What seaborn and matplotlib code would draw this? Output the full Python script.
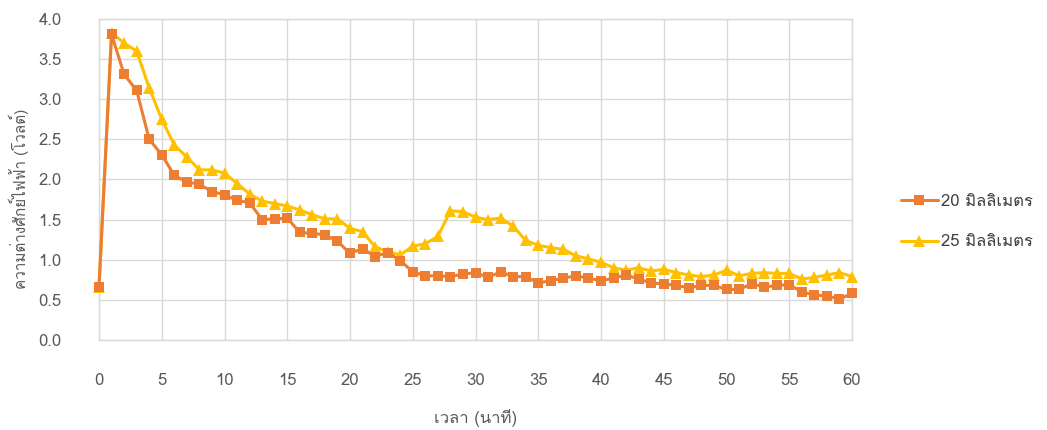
import numpy as np
import pandas as pd
import matplotlib
matplotlib.use("Agg")
import matplotlib.pyplot as plt
import seaborn as sns
from matplotlib import font_manager, ft2font

minutes = list(range(0, 61))
volt_20mm = [0.66, 3.81, 3.31, 3.11, 2.50, 2.31, 2.05, 1.97, 1.94, 1.85,
             1.81, 1.74, 1.71, 1.50, 1.51, 1.52, 1.34, 1.33, 1.31, 1.23,
             1.08, 1.14, 1.04, 1.09, 0.99, 0.85, 0.80, 0.80, 0.79, 0.82,
             0.84, 0.78, 0.85, 0.79, 0.79, 0.71, 0.74, 0.77, 0.80, 0.77,
             0.74, 0.77, 0.81, 0.76, 0.71, 0.70, 0.68, 0.65, 0.68, 0.68,
             0.63, 0.63, 0.70, 0.66, 0.68, 0.69, 0.60, 0.56, 0.55, 0.51,
             0.58]
volt_25mm = [0.66, 3.83, 3.70, 3.60, 3.14, 2.75, 2.43, 2.28, 2.12, 2.12,
             2.08, 1.95, 1.82, 1.73, 1.70, 1.67, 1.62, 1.56, 1.51, 1.51,
             1.39, 1.35, 1.16, 1.10, 1.06, 1.17, 1.20, 1.29, 1.61, 1.60,
             1.53, 1.50, 1.52, 1.42, 1.24, 1.18, 1.15, 1.13, 1.05, 1.01,
             0.97, 0.90, 0.87, 0.90, 0.86, 0.88, 0.84, 0.81, 0.79, 0.81,
             0.87, 0.80, 0.83, 0.84, 0.83, 0.83, 0.76, 0.78, 0.81, 0.84,
             0.79]
series_labels = ["20 มิลลิเมตร", "25 มิลลิเมตร"]
x_label = "เวลา (นาที)"
y_label = "ความต่างศักย์ไฟฟ้า (โวลต์)"
x_ticks = list(range(0, 61, 5))
y_ticks = [0.0, 0.5, 1.0, 1.5, 2.0, 2.5, 3.0, 3.5, 4.0]

sns.set_theme(style="white")

# find an installed font that has Thai glyphs
thai_family = None
for fe in font_manager.fontManager.ttflist:
    try:
        f = ft2font.FT2Font(fe.fname)
        cm = f.get_charmap()
        if 0x0E21 in cm and 0x0E34 in cm and 0x0030 in cm:
            thai_family = fe.name
            break
    except Exception:
        continue
families = ([thai_family] if thai_family else []) + ["Open Sans", "DejaVu Sans"]
plt.rcParams["font.family"] = families

fig = plt.figure(figsize=(10.47, 4.30), dpi=100)
ax = fig.add_axes([99 / 1047, 1 - 340 / 430, (852 - 99) / 1047, (340 - 19) / 430])

df20 = pd.DataFrame({"t": minutes, "v": volt_20mm})
df25 = pd.DataFrame({"t": minutes, "v": volt_25mm})

sns.lineplot(data=df25, x="t", y="v", ax=ax, color="#FFC000", marker="^",
             markersize=8.5, markeredgewidth=0, linewidth=2.2,
             label=series_labels[1], zorder=3)
sns.lineplot(data=df20, x="t", y="v", ax=ax, color="#ED7D31", marker="s",
             markersize=7.5, markeredgewidth=0, linewidth=2.2,
             label=series_labels[0], zorder=4)
for ln in ax.lines:
    ln.set_clip_on(False)

ax.set_xlim(0, 60)
ax.set_ylim(0, 4.0)
ax.set_xticks(x_ticks)
ax.set_yticks(y_ticks)
ax.set_xticklabels([str(v) for v in x_ticks])
ax.set_yticklabels([f"{v:.1f}" for v in y_ticks])
ax.tick_params(axis="both", length=0, labelsize=12, labelcolor="#595959")
ax.tick_params(axis="x", pad=24)
ax.tick_params(axis="y", pad=27)
ax.grid(True, color="#D9D9D9", linewidth=1.0)
ax.set_axisbelow(True)
for s in ax.spines.values():
    s.set_color("#D9D9D9")
    s.set_linewidth(1.0)

ax.set_xlabel(x_label, fontsize=12, color="#595959", labelpad=14)
ax.set_ylabel(y_label, fontsize=11, color="#595959")
ax.yaxis.set_label_coords((29 - 99) / 753, 0.44)

handles, labels = ax.get_legend_handles_labels()
order = [labels.index(series_labels[0]), labels.index(series_labels[1])]
leg = ax.legend([handles[i] for i in order], [labels[i] for i in order],
                loc="center left", bbox_to_anchor=(886 / 1047, 1 - 222 / 430),
                bbox_transform=fig.transFigure, frameon=False, fontsize=12,
                handlelength=2.2, labelspacing=1.5, handletextpad=0.2)
for t in leg.get_texts():
    t.set_color("#404040")

fig.savefig("out.png", dpi=100, facecolor="white")
